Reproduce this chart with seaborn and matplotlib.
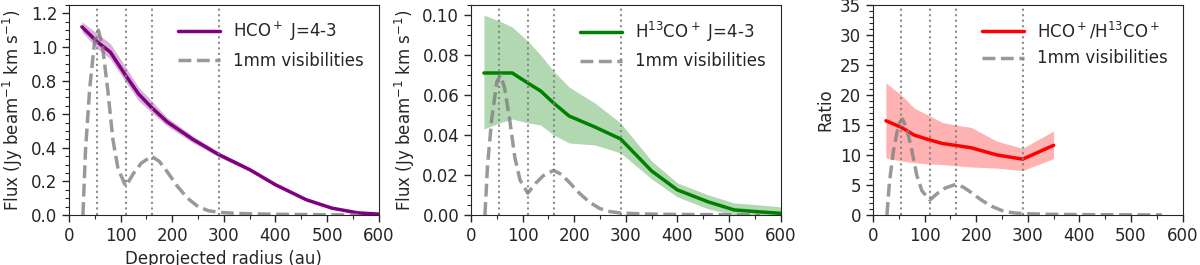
import numpy as np
import pandas as pd
import matplotlib
matplotlib.use("Agg")
import matplotlib.pyplot as plt
from matplotlib.ticker import MultipleLocator
import seaborn as sns

sns.set_style("ticks")
plt.rcParams['font.family'] = ['DejaVu Sans']
plt.rcParams['font.size'] = 10
plt.rcParams['mathtext.default'] = 'regular'

# radial sample points (au)
radius = [25, 55, 80, 110, 135, 160, 190, 240, 290, 350, 400, 460, 510, 560, 600]

# HCO+ J=4-3
hco = [1.12, 1.03, 0.97, 0.83, 0.72, 0.64, 0.555, 0.45, 0.36, 0.27, 0.18, 0.09, 0.04, 0.012, 0.005]
hco_lo = [1.09, 0.99, 0.93, 0.79, 0.68, 0.61, 0.53, 0.43, 0.345, 0.26, 0.17, 0.085, 0.035, 0.008, 0.002]
hco_hi = [1.15, 1.08, 1.02, 0.88, 0.76, 0.68, 0.58, 0.47, 0.375, 0.28, 0.19, 0.097, 0.045, 0.016, 0.008]

# H13CO+ J=4-3
h13co = [0.071, 0.071, 0.071, 0.066, 0.062, 0.056, 0.0495, 0.044, 0.038, 0.022, 0.0125, 0.0065, 0.0025, 0.0015, 0.0008]
h13co_lo = [0.043, 0.046, 0.048, 0.046, 0.045, 0.040, 0.036, 0.035, 0.031, 0.018, 0.009, 0.003, 0.0, 0.0, 0.0]
h13co_hi = [0.100, 0.097, 0.094, 0.087, 0.080, 0.072, 0.064, 0.056, 0.046, 0.027, 0.016, 0.010, 0.006, 0.005, 0.004]

# HCO+/H13CO+ ratio
ratio_r = [25, 55, 80, 110, 135, 160, 190, 240, 290, 350]
ratio = [15.7, 14.6, 13.3, 12.5, 11.9, 11.6, 11.2, 10.0, 9.3, 11.6]
ratio_lo = [9.5, 9.0, 8.7, 8.5, 8.4, 8.2, 8.0, 7.8, 7.4, 9.4]
ratio_hi = [22.0, 20.0, 17.8, 16.5, 15.4, 15.0, 14.6, 12.3, 11.1, 14.0]

# 1mm continuum visibility profile (normalised to peak)
vis_r = [27, 32, 40, 50, 57, 65, 75, 85, 95, 110, 125, 140, 160, 175, 190, 210, 230, 250, 270, 290, 320, 350, 400, 450, 500, 560]
vis_norm = [0.0, 0.35, 0.68, 0.95, 1.0, 0.91, 0.68, 0.41, 0.25, 0.155, 0.225, 0.28, 0.318, 0.29, 0.235, 0.155, 0.09, 0.045, 0.023, 0.014, 0.009, 0.006, 0.0035, 0.002, 0.001, 0.0]
vis_peak = [1.1, 0.07, 16.0]

# ring / gap positions (au)
rings = [55, 110, 160, 290]

panels = [
    (radius, hco, hco_lo, hco_hi, 'purple', 'HCO$^+$ J=4-3', 'Flux (Jy beam$^{-1}$ km s$^{-1}$)', 1.25, 0.2, 0.05),
    (radius, h13co, h13co_lo, h13co_hi, 'green', 'H$^{13}$CO$^+$ J=4-3', 'Flux (Jy beam$^{-1}$ km s$^{-1}$)', 0.105, 0.02, 0.005),
    (ratio_r, ratio, ratio_lo, ratio_hi, 'red', 'HCO$^+$/H$^{13}$CO$^+$', 'Ratio', 35, 5, 1),
]

fig = plt.figure(figsize=(12, 2.65), dpi=100)
lefts = [0.0575, 0.3925, 0.7275]

for i, (r, y, lo, hi, col, lab, ylab, ytop, ymaj, ymin) in enumerate(panels):
    ax = fig.add_axes([lefts[i], 0.189, 0.258, 0.792])
    df = pd.DataFrame({'r': r, 'y': y})
    ax.fill_between(r, lo, hi, color=col, alpha=0.3, lw=0)
    sns.lineplot(x='r', y='y', data=df, color=col, lw=2.5, label=lab, ax=ax)
    dv = pd.DataFrame({'r': vis_r, 'v': np.array(vis_norm) * vis_peak[i]})
    sns.lineplot(x='r', y='v', data=dv, color='grey', alpha=0.8, lw=2.5, ls='--',
                 label='1mm visibilities', ax=ax)
    for rr in rings:
        ax.axvline(rr, color='grey', ls=':', lw=1.5, alpha=0.9)
    ax.set_xlim(0, 600)
    ax.set_ylim(0, ytop)
    ax.xaxis.set_major_locator(MultipleLocator(100))
    ax.xaxis.set_minor_locator(MultipleLocator(50))
    ax.yaxis.set_major_locator(MultipleLocator(ymaj))
    ax.yaxis.set_minor_locator(MultipleLocator(ymin))
    ax.tick_params(which='major', direction='out', length=5, width=1, labelsize=12)
    ax.tick_params(which='minor', direction='out', length=3, width=0.8)
    ax.set_ylabel(ylab, fontsize=12)
    if i == 0:
        ax.set_xlabel('Deprojected radius (au)', fontsize=12)
    else:
        ax.set_xlabel('')
    ax.legend(loc='upper right', frameon=False, fontsize=12, handlelength=2.5)

fig.savefig('out.png', dpi=100)
